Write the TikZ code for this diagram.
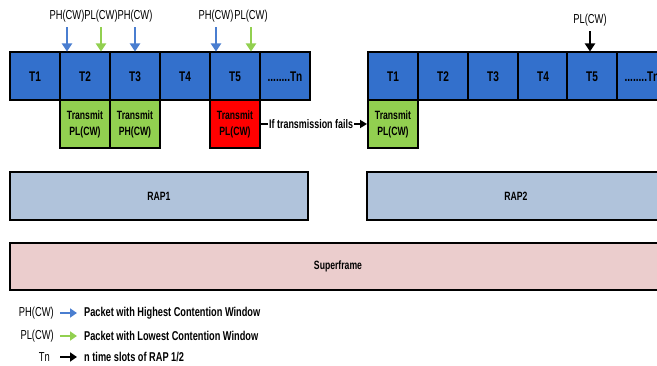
\documentclass[tikz,border=0pt]{standalone}
\usepackage{fontspec}
\setmainfont{Liberation Sans}[FakeStretch=0.72]
\usetikzlibrary{arrows.meta,positioning}
\definecolor{slotblue}{RGB}{51,112,204}
\definecolor{sendgreen}{RGB}{146,208,80}
\definecolor{failred}{RGB}{255,0,0}
\definecolor{rapblue}{RGB}{176,195,219}
\definecolor{framepink}{RGB}{235,205,205}
\definecolor{phblue}{RGB}{74,126,208}
\begin{document}
\begin{tikzpicture}[x=1pt,y=-1pt,
  slot/.style={draw, line width=2pt, fill=slotblue, minimum width=50pt, minimum height=48pt, inner sep=0pt, font=\bfseries\fontsize{14}{16}\selectfont},
  sendbox/.style={slot, fill=sendgreen, align=center, font=\bfseries\fontsize{12}{16}\selectfont},
  failbox/.style={sendbox, fill=failred},
  rapbox/.style={draw, line width=2pt, fill=rapblue, minimum width=298pt, minimum height=48pt, font=\bfseries\fontsize{12}{14}\selectfont},
  cwlabel/.style={inner sep=1pt, font=\fontsize{13}{15}\selectfont},
  cwarrow/.style={line width=2.5pt, -{Triangle[length=8pt,width=10pt]}, shorten <=4pt},
  legtext/.style={inner sep=1pt, anchor=west, font=\bfseries\fontsize{12.8}{15}\selectfont},
  legarrow/.style={line width=2.5pt, -{Triangle[length=7pt,width=9pt]}, shorten <=5pt, shorten >=6pt},
]
\useasboundingbox (0,0) rectangle (657,366);

% RAP1 time slots
\node[slot] (a1) at (35,76.5) {T1};
\node[slot] (a2) at (85,76.5) {T2};
\node[slot] (a3) at (135,76.5) {T3};
\node[slot] (a4) at (185,76.5) {T4};
\node[slot] (a5) at (235,76.5) {T5};
\node[slot] (a6) at (285,76.5) {........Tn};
\node[sendbox] (sa2) at (85,124) {Transmit\\PL(CW)};
\node[sendbox] (sa3) at (135,124) {Transmit\\PH(CW)};
\node[failbox] (sa5) at (235,124) {Transmit\\PL(CW)};

% RAP2 time slots
\node[slot] (b1) at (393,76.5) {T1};
\node[slot] (b2) at (443,76.5) {T2};
\node[slot] (b3) at (493,76.5) {T3};
\node[slot] (b4) at (543,76.5) {T4};
\node[slot] (b5) at (592,76.5) {T5};
\node[slot] (b6) at (642,76.5) {........Tn};
\node[sendbox] (sb1) at (393,124) {Transmit\\PL(CW)};

% packets arriving
\node[cwlabel] (ph1) at (67,16) {PH(CW)};
\node[cwlabel] (pl1) at (101,16) {PL(CW)};
\node[cwlabel] (ph2) at (135,16) {PH(CW)};
\node[cwlabel] (ph3) at (216,16) {PH(CW)};
\node[cwlabel] (pl2) at (251,16) {PL(CW)};
\node[cwlabel] (pl3) at (590,20) {PL(CW)};
\draw[cwarrow, phblue] (ph1.south) -- (ph1.south |- a2.north);
\draw[cwarrow, sendgreen] (pl1.south) -- (pl1.south |- a2.north);
\draw[cwarrow, phblue] (ph2.south) -- (ph2.south |- a3.north);
\draw[cwarrow, phblue] (ph3.south) -- (ph3.south |- a5.north);
\draw[cwarrow, sendgreen] (pl2.south) -- (pl2.south |- a5.north);
\draw[cwarrow, black, line width=2pt] (pl3.south) -- (pl3.south |- b5.north);

% retry in next RAP
\node[legtext, font=\bfseries\fontsize{12.4}{14}\selectfont] (fail) at (268,124) {If transmission fails};
\draw[line width=2pt] (sa5.east) -- (fail.west);
\draw[line width=2pt, -{Triangle[length=7pt,width=8pt]}] (fail.east) -- (sb1.west);

% access phases
\node[rapbox] (rap1) at (159,196) {RAP1};
\node[rapbox] (rap2) at (516,196) {RAP2};
\node[rapbox, fill=framepink, minimum width=656pt, minimum height=47pt] (sframe) at (338,266.5) {Superframe};

% legend
\node[cwlabel, anchor=east] (kph) at (55,313) {PH(CW)};
\node[legtext] (dph) at (83,313) {Packet with Highest Contention Window};
\node[cwlabel, anchor=east] (kpl) at (55,336) {PL(CW)};
\node[legtext] (dpl) at (83,336) {Packet with Lowest Contention Window};
\node[cwlabel, anchor=east] (ktn) at (51,357) {Tn};
\node[legtext] (dtn) at (83,357) {n time slots of RAP 1/2};
\draw[legarrow, phblue] (kph.east) -- (dph.west);
\draw[legarrow, sendgreen] (kpl.east) -- (dpl.west);
\draw[legarrow, black, shorten <=9pt] (ktn.east) -- (dtn.west);

\end{tikzpicture}
\end{document}
